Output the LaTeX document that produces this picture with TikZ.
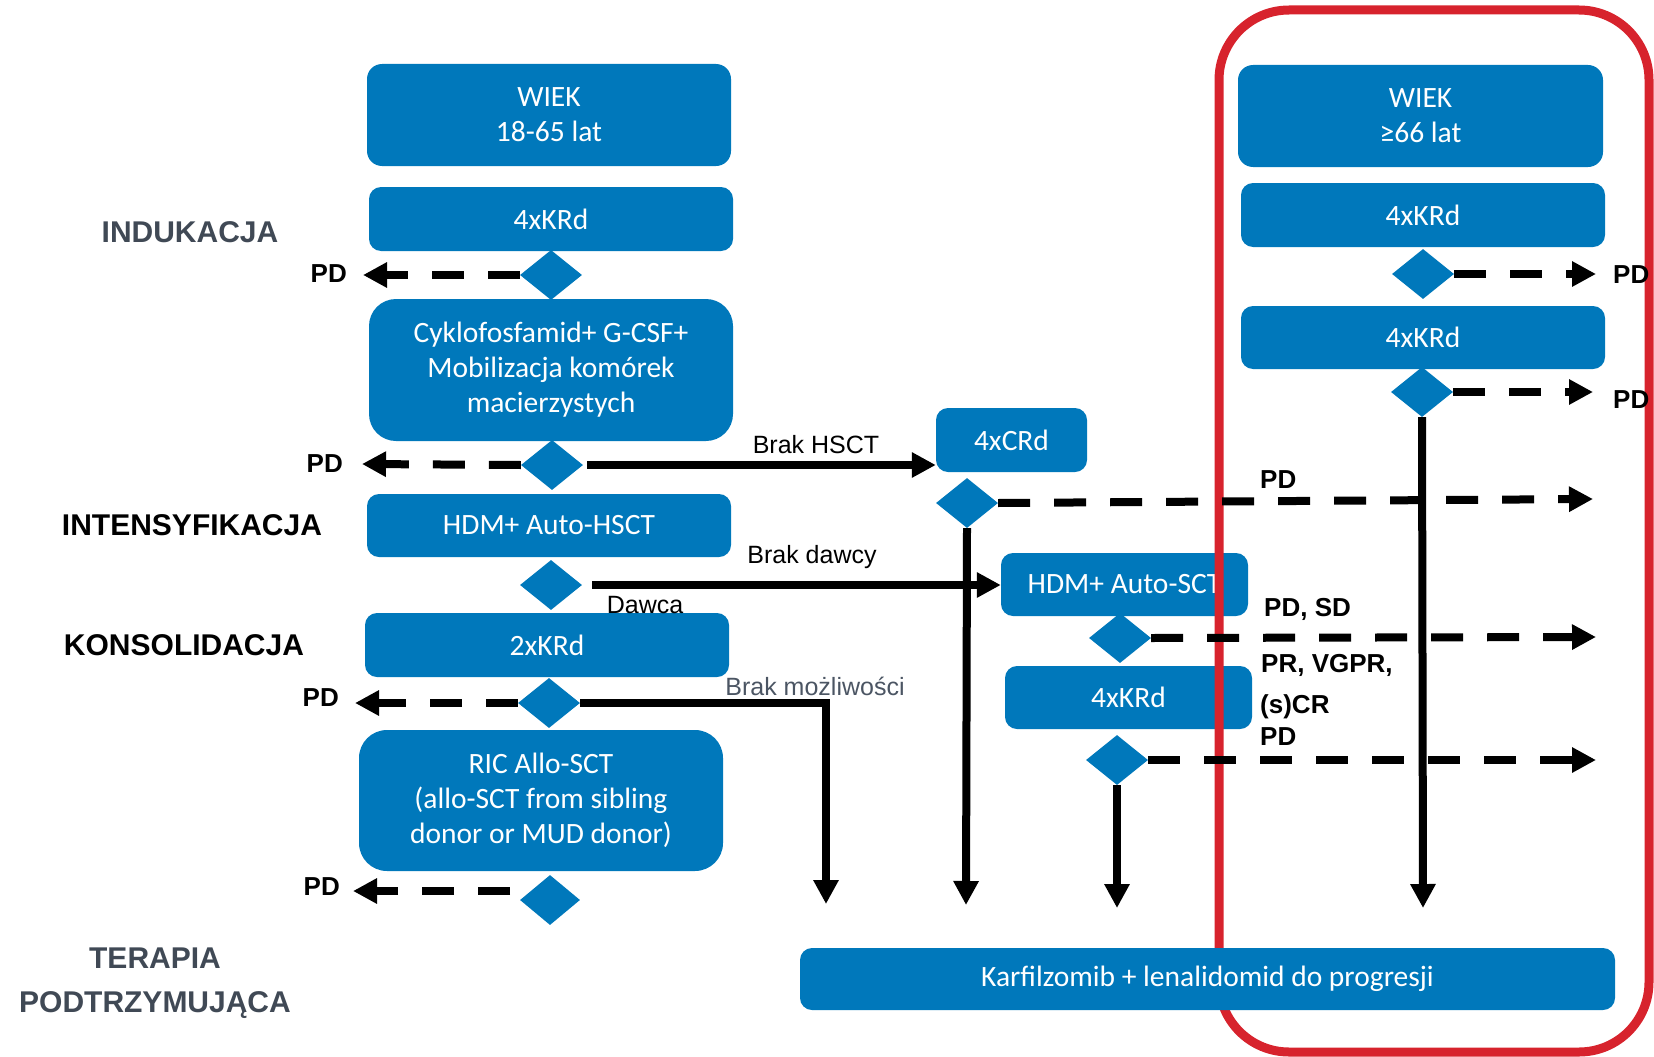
\documentclass[tikz,border=0pt]{standalone}
\usepackage{fontspec}
\setmainfont{Carlito}
\newfontfamily\arialf{Liberation Sans}
\usetikzlibrary{arrows.meta,shapes.geometric}
\definecolor{boxblue}{RGB}{0,120,187}
\definecolor{redframe}{RGB}{215,35,45}
\definecolor{labgray}{RGB}{64,73,85}
\definecolor{bmgray}{RGB}{75,85,99}
\begin{document}
\begin{tikzpicture}[x=1pt,y=-1pt,
  box/.style={fill=boxblue, text=white, rounded corners=12pt, inner sep=0pt, align=center, font=\fontsize{29.5}{35}\selectfont},
  dia/.style={diamond, fill=boxblue, inner sep=0pt, minimum width=62pt, minimum height=50pt},
  solidarrow/.style={line width=8pt, -{Triangle[length=24pt,width=24pt]}},
  dasharrow/.style={solidarrow, dash pattern=on 32pt off 24pt},
  phase/.style={font=\arialf\bfseries\fontsize{30}{36}\selectfont, text=black},
  phasegray/.style={phase, text=labgray},
  pd/.style={font=\arialf\bfseries\fontsize{26}{30}\selectfont, inner sep=0pt},
  lab/.style={font=\arialf\fontsize{25}{30}\selectfont, inner sep=0pt},
]
\useasboundingbox (0,0) rectangle (1654,1057);

% left column boxes
\node[box, rounded corners=15pt, minimum width=364pt, minimum height=102pt] (wL) at (549,115) {WIEK\\18-65 lat};
\node[box, minimum width=364pt, minimum height=64pt] (kL1) at (551,219) {4xKRd};
\node[box, rounded corners=27pt, minimum width=364pt, minimum height=142pt] (cyk) at (551,370) {Cyklofosfamid+ G-CSF+\\Mobilizacja komórek\\macierzystych};
\node[box, minimum width=364pt, minimum height=63pt] (hdm) at (549,525.5) {HDM+ Auto-HSCT};
\node[box, minimum width=364pt, minimum height=64pt] (k2) at (547,645) {2xKRd};
\node[box, rounded corners=28pt, minimum width=364pt, minimum height=141pt] (ric) at (541,800.5) {RIC Allo-SCT\\(allo-SCT from sibling\\donor or MUD donor)};

% middle boxes
\node[box, minimum width=151pt, minimum height=64pt] (crd) at (1011.5,440) {4xCRd};
\node[box, minimum width=247pt, minimum height=63pt] (asct) at (1124.5,584.5) {HDM+ Auto-SCT};
\node[box, minimum width=247pt, minimum height=63pt] (kmid) at (1128.5,697.5) {4xKRd};

% right column boxes
\node[box, rounded corners=15pt, minimum width=365pt, minimum height=102pt] (wR) at (1420.5,116) {WIEK\\≥66 lat};
\node[box, minimum width=364pt, minimum height=64pt] (kR1) at (1423,215) {4xKRd};
\node[box, minimum width=364pt, minimum height=63pt] (kR2) at (1423,337.5) {4xKRd};

% red frame
\draw[redframe, line width=9pt, rounded corners=70pt] (1219,10) rectangle (1649,1052);

% maintenance box
\node[box, minimum width=815pt, minimum height=62pt] (karf) at (1207.5,979) {Karfilzomib + lenalidomid do progresji};

% diamonds
\node[dia] (d1) at (551,275) {};
\node[dia] (d2) at (552,465) {};
\node[dia] (d3) at (967,503) {};
\node[dia] (d4) at (551,585) {};
\node[dia] (d5) at (549,703) {};
\node[dia, minimum width=60pt] (d6) at (550,900) {};
\node[dia] (d7) at (1120,638) {};
\node[dia] (d8) at (1117,760) {};
\node[dia] (dR1) at (1423,274) {};
\node[dia] (dR2) at (1422,392) {};

% free ends
\coordinate (tL1) at (363,275);
\coordinate (tL2) at (362,464);
\coordinate (tL5) at (355,703);
\coordinate (sL6) at (510,891);
\coordinate (tL6) at (353,891);
\coordinate (tR1) at (1596,274);
\coordinate (tR2) at (1593,392);
\coordinate (t3) at (1593,499);
\coordinate (t7) at (1596,637);
\coordinate (t8) at (1596,760);
\coordinate (e5) at (826,904);
\coordinate (e3) at (966,905);
\coordinate (e8) at (1117,908);
\coordinate (eR) at (1423,908);

% dashed PD arrows
\draw[dasharrow] (d1.west) -- (tL1);
\draw[dasharrow] (d2.west) -- (tL2);
\draw[dasharrow] (d5.west) -- (tL5);
\draw[dasharrow] (sL6) -- (tL6);
\draw[dasharrow] (dR1.east) -- (tR1);
\draw[dasharrow] (dR2.east) -- (tR2);
\draw[dasharrow] (d3.east) -- (t3);
\draw[dasharrow] (d7.east) -- (t7);
\draw[dasharrow] (d8.east) -- (t8);

% solid arrows
\draw[solidarrow, shorten <=4pt] (d2.east) -- (d2.east -| crd.west);
\draw[solidarrow, shorten <=10pt] (d4.east) -- (d4.east -| asct.west);
\draw[solidarrow] (d5.east) -| (e5);
\draw[solidarrow] (d3.south) -- (e3);
\draw[solidarrow] (d8.south) -- (e8);
\draw[solidarrow] (dR2.south) -- (eR);

% connector labels
\node[lab, anchor=base] (lhsct) at (816,453) {Brak HSCT};
\node[lab, anchor=base] (ldaw) at (812,563) {Brak dawcy};
\node[lab, anchor=base] (ldawca) at (645,613) {Dawca};
\node[lab, anchor=base, text=bmgray] (lbm) at (815,695) {Brak możliwości};

% PD labels
\node[pd, anchor=base east] (p1) at (347,282) {PD};
\node[pd, anchor=base east] (p2) at (343,472) {PD};
\node[pd, anchor=base east] (p5) at (339,706) {PD};
\node[pd, anchor=base east] (p6) at (340,895) {PD};
\node[pd, anchor=base west] (pR1) at (1613,283) {PD};
\node[pd, anchor=base west] (pR2) at (1613,408) {PD};
\node[pd, anchor=base west] (p3) at (1260,488) {PD};
\node[pd, anchor=base west] (p7) at (1264,616) {PD, SD};
\node[pd, anchor=base west] (p7b) at (1261,672) {PR, VGPR,};
\node[pd, anchor=base west] (p7c) at (1260,713) {(s)CR};
\node[pd, anchor=base west] (p8) at (1260,745) {PD};

% phase labels
\node[phasegray] (ind) at (190,232) {INDUKACJA};
\node[phase] (intens) at (192,525) {INTENSYFIKACJA};
\node[phase] (kons) at (184,645) {KONSOLIDACJA};
\node[phasegray] (ter) at (155,958) {TERAPIA};
\node[phasegray, anchor=base] (pod) at (155,1012) {PODTRZYMUJĄCA};
\end{tikzpicture}
\end{document}
